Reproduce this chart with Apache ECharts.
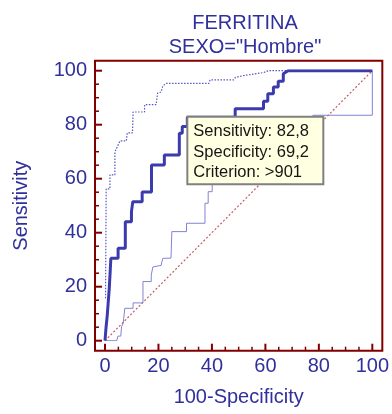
<!DOCTYPE html>
<html>
<head>
<meta charset="utf-8">
<script src="https://cdn.jsdelivr.net/npm/echarts@6/dist/echarts.min.js"></script>
<style>
  html, body { margin: 0; padding: 0; background: #ffffff; }
  #chart { width: 392px; height: 414px; }
</style>
</head>
<body>
<div id="chart"></div>
<script>
// ROC curve for FERRITINA (men): [100-Specificity, Sensitivity]
const rocCurve = [
  [0, 0], [0.37, 4.7], [0.85, 9.5], [1.6, 19.5], [2.2, 30.5],
  [4.9, 30.5], [4.9, 34.2], [7.6, 34.2], [7.6, 44.1], [9.9, 44.1],
  [9.9, 47.8], [10.4, 47.8], [10.4, 51.5], [13.9, 51.5], [13.9, 55.1],
  [17.4, 55.1], [17.4, 65.1], [22.2, 65.1], [22.2, 68.8], [27.8, 68.8],
  [27.8, 76.8], [28.9, 76.8], [28.9, 79.3], [30.8, 79.3], [30.8, 82.8],
  [48.7, 82.8], [48.7, 85.9], [59.3, 85.9], [59.3, 88.7], [60.9, 88.7],
  [60.9, 91.5], [63.0, 91.5], [63.0, 94.0], [64.8, 94.0], [64.8, 96.1],
  [66.7, 96.1], [66.7, 98.9], [68.5, 100], [100, 100]
];

// Upper 95% confidence bound
const upperBound = [
  [0.2, 15.7], [0.44, 56.2], [1.85, 56.2], [1.85, 61.4], [3.7, 61.4],
  [3.7, 69.9], [5.6, 74.0], [8.0, 74.0], [8.3, 77.0], [10.3, 77.0],
  [10.5, 84.7], [14.8, 84.7], [14.8, 87.4], [19.1, 87.4], [19.7, 91.7],
  [21.0, 92.1], [21.6, 94.3], [22.9, 95.3], [38.9, 95.3], [39.3, 96.6],
  [48.1, 96.6], [48.8, 97.5], [51.9, 98.2], [59.3, 99.3], [61.1, 100],
  [100, 100]
];

// Lower 95% confidence bound
const lowerBound = [
  [0, 0], [4.4, 0], [4.8, 1.7], [5.9, 1.7], [6.2, 5.2], [6.8, 6.4],
  [7.4, 12.0], [10.5, 12.0], [10.5, 14.0], [14.2, 14.0], [14.2, 21.9],
  [17.3, 21.9], [17.3, 24.3], [17.9, 27.3], [21.0, 27.9], [21.6, 30.5],
  [24.7, 30.6], [25.0, 40.4], [30.5, 40.4], [30.5, 43.5], [37.4, 43.5],
  [37.4, 50.9], [38.6, 50.9], [38.6, 55.2], [40.1, 55.2], [40.1, 60.0],
  [44.0, 60.0], [44.0, 63.5], [50.0, 63.5], [50.0, 67.5], [56.0, 67.5],
  [56.0, 71.5], [62.0, 71.5], [62.0, 75.5], [68.0, 75.5], [68.0, 79.0],
  [74.0, 79.0], [74.0, 82.0], [77.1, 82.5], [77.8, 83.5], [100, 83.5],
  [100, 100]
];

// Reference line of no discrimination
const chanceLine = [[0, 0], [100, 100]];

// Optimal cut-off point
const sensitivity = 82.8;
const specificity = 69.2;
const criterion = '>901';

// Axis scale (same for both axes)
const axisMin = 0;
const axisMax = 100;
const axisStep = 20;
const minorSplit = 4;

const titleLines = ['FERRITINA', 'SEXO="Hombre"'];
const xName = '100-Specificity';
const yName = 'Sensitivity';

const FONT = '"Liberation Sans", Arial, sans-serif';
const NAVY = '#30309c';
const FRAME = '#800000';
const GAP = 10; // frame sits this many pixels outside the 0..100 range

const fmt = v => v.toFixed(1).replace('.', ',');

function valueAxis(labelMargin) {
  return {
    type: 'value', min: axisMin, max: axisMax, interval: axisStep, offset: GAP,
    axisLine: { show: false, onZero: false },
    axisTick: { show: false },
    minorTick: { show: false },
    splitLine: { show: false },
    axisLabel: { color: NAVY, fontSize: 20, fontFamily: FONT, margin: labelMargin }
  };
}

const chart = echarts.init(document.getElementById('chart'), null, { renderer: 'canvas' });

chart.setOption({
  animation: false,
  backgroundColor: '#ffffff',
  title: {
    text: titleLines.join('\n'),
    left: 240, top: 6, textAlign: 'center',
    textStyle: { color: NAVY, fontSize: 20, fontWeight: 'normal', fontFamily: FONT, lineHeight: 24 }
  },
  grid: { left: 105, top: 70.7, width: 270, height: 270 },
  xAxis: valueAxis(6),
  yAxis: valueAxis(8),
  series: [
    {
      type: 'line', data: chanceLine, symbol: 'none', silent: true, z: 1,
      lineStyle: { color: '#c45c5c', width: 1.2, type: [2, 2] }
    },
    {
      type: 'line', data: lowerBound, symbol: 'none', silent: true, z: 2,
      lineStyle: { color: '#8383d3', width: 1 }
    },
    {
      type: 'line', data: upperBound, symbol: 'none', silent: true, z: 2,
      lineStyle: { color: '#5656c4', width: 1.2, type: [1.5, 1.5] }
    },
    {
      type: 'line', data: rocCurve, symbol: 'none', silent: true, z: 3,
      lineStyle: { color: '#3b3bae', width: 3 }
    }
  ]
});

// Frame, tick marks, axis titles and the cut-off info box
const tl = chart.convertToPixel({ gridIndex: 0 }, [axisMin, axisMax]);
const br = chart.convertToPixel({ gridIndex: 0 }, [axisMax, axisMin]);
const pt = chart.convertToPixel({ gridIndex: 0 }, [100 - specificity, sensitivity]);
const cx = (tl[0] + br[0]) / 2;
const cy = (tl[1] + br[1]) / 2;
const frameLeft = tl[0] - GAP;
const frameBottom = br[1] + GAP;

// Inward tick marks on the frame, placed through the axis scales
const tickMarks = [];
const minorStep = axisStep / minorSplit;
for (let v = axisMin; v <= axisMax + 1e-9; v += minorStep) {
  const major = Math.abs(v / axisStep - Math.round(v / axisStep)) < 1e-9;
  const len = major ? 7 : 4;
  const w = major ? 2 : 1.5;
  const px = chart.convertToPixel({ xAxisIndex: 0 }, v);
  const py = chart.convertToPixel({ yAxisIndex: 0 }, v);
  tickMarks.push({
    type: 'line', silent: true, z: 95,
    shape: { x1: px, y1: frameBottom, x2: px, y2: frameBottom - len },
    style: { stroke: FRAME, lineWidth: w }
  });
  tickMarks.push({
    type: 'line', silent: true, z: 95,
    shape: { x1: frameLeft, y1: py, x2: frameLeft + len, y2: py },
    style: { stroke: FRAME, lineWidth: w }
  });
}

chart.setOption({
  graphic: [
    {
      type: 'rect', silent: true, z: 90,
      shape: { x: frameLeft, y: tl[1] - GAP, width: br[0] - tl[0] + 2 * GAP, height: br[1] - tl[1] + 2 * GAP },
      style: { fill: null, stroke: FRAME, lineWidth: 2 }
    },
    ...tickMarks,
    {
      type: 'text', silent: true, x: cx, y: 397,
      style: { text: xName, fill: NAVY, fontSize: 20, fontFamily: FONT, align: 'center', verticalAlign: 'middle' }
    },
    {
      type: 'text', silent: true, x: 21, y: cy, rotation: Math.PI / 2,
      style: { text: yName, fill: NAVY, fontSize: 20, fontFamily: FONT, align: 'center', verticalAlign: 'middle' }
    },
    {
      type: 'group', x: pt[0], y: pt[1], z: 100,
      children: [
        {
          type: 'rect', silent: true, z: 100,
          shape: { x: 0, y: -0.5, width: 136, height: 67.5 },
          style: { fill: '#ffffe1', stroke: '#808080', lineWidth: 2 }
        },
        {
          type: 'text', x: 6, y: 4.5, silent: true, z: 101,
          style: {
            text: [
              'Sensitivity: ' + fmt(sensitivity),
              'Specificity: ' + fmt(specificity),
              'Criterion: ' + criterion
            ].join('\n'),
            fill: '#151515', fontSize: 16.5, fontFamily: FONT, lineHeight: 20.3,
            verticalAlign: 'top', align: 'left'
          }
        }
      ]
    }
  ]
});
</script>
</body>
</html>
